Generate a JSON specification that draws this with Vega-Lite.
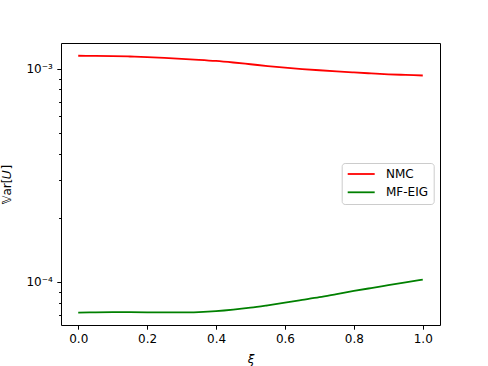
{
  "$schema": "https://vega.github.io/schema/vega-lite/v6.json",
  "width": 379,
  "height": 282,
  "autosize": {"type": "none"},
  "padding": {"left": 61, "top": 43, "right": 48, "bottom": 41},
  "background": "white",
  "config": {
    "font": "DejaVu Sans",
    "view": {"stroke": "black", "strokeWidth": 1},
    "axis": {
      "domain": false,
      "grid": false,
      "tickColor": "black",
      "tickWidth": 1,
      "labelColor": "black",
      "labelFontSize": 12,
      "labelFont": "DejaVu Sans",
      "titleFont": "DejaVu Sans",
      "titleFontSize": 12,
      "titleFontWeight": "normal",
      "titleColor": "black"
    }
  },
  "data": {
    "values": [
      {"xi": 0.0, "v": 0.001151, "method": "NMC"},
      {"xi": 0.05, "v": 0.001150, "method": "NMC"},
      {"xi": 0.1, "v": 0.001147, "method": "NMC"},
      {"xi": 0.15, "v": 0.001142, "method": "NMC"},
      {"xi": 0.2, "v": 0.001135, "method": "NMC"},
      {"xi": 0.25, "v": 0.001125, "method": "NMC"},
      {"xi": 0.3, "v": 0.001114, "method": "NMC"},
      {"xi": 0.35, "v": 0.001102, "method": "NMC"},
      {"xi": 0.4, "v": 0.001088, "method": "NMC"},
      {"xi": 0.45, "v": 0.001070, "method": "NMC"},
      {"xi": 0.5, "v": 0.001050, "method": "NMC"},
      {"xi": 0.55, "v": 0.001030, "method": "NMC"},
      {"xi": 0.6, "v": 0.001012, "method": "NMC"},
      {"xi": 0.65, "v": 0.000997, "method": "NMC"},
      {"xi": 0.7, "v": 0.000984, "method": "NMC"},
      {"xi": 0.75, "v": 0.000972, "method": "NMC"},
      {"xi": 0.8, "v": 0.000961, "method": "NMC"},
      {"xi": 0.85, "v": 0.000951, "method": "NMC"},
      {"xi": 0.9, "v": 0.000942, "method": "NMC"},
      {"xi": 0.95, "v": 0.000936, "method": "NMC"},
      {"xi": 1.0, "v": 0.000930, "method": "NMC"},
      {"xi": 0.0, "v": 0.0000718, "method": "MF-EIG"},
      {"xi": 0.05, "v": 0.0000720, "method": "MF-EIG"},
      {"xi": 0.1, "v": 0.0000721, "method": "MF-EIG"},
      {"xi": 0.15, "v": 0.0000721, "method": "MF-EIG"},
      {"xi": 0.2, "v": 0.0000720, "method": "MF-EIG"},
      {"xi": 0.25, "v": 0.0000719, "method": "MF-EIG"},
      {"xi": 0.3, "v": 0.0000719, "method": "MF-EIG"},
      {"xi": 0.35, "v": 0.0000722, "method": "MF-EIG"},
      {"xi": 0.4, "v": 0.0000729, "method": "MF-EIG"},
      {"xi": 0.45, "v": 0.0000741, "method": "MF-EIG"},
      {"xi": 0.5, "v": 0.0000757, "method": "MF-EIG"},
      {"xi": 0.55, "v": 0.0000777, "method": "MF-EIG"},
      {"xi": 0.6, "v": 0.0000799, "method": "MF-EIG"},
      {"xi": 0.65, "v": 0.0000823, "method": "MF-EIG"},
      {"xi": 0.7, "v": 0.0000848, "method": "MF-EIG"},
      {"xi": 0.75, "v": 0.0000877, "method": "MF-EIG"},
      {"xi": 0.8, "v": 0.0000907, "method": "MF-EIG"},
      {"xi": 0.85, "v": 0.0000936, "method": "MF-EIG"},
      {"xi": 0.9, "v": 0.0000965, "method": "MF-EIG"},
      {"xi": 0.95, "v": 0.0000995, "method": "MF-EIG"},
      {"xi": 1.0, "v": 0.0001025, "method": "MF-EIG"}
    ]
  },
  "mark": {"type": "line", "strokeWidth": 1.8, "interpolate": "monotone"},
  "encoding": {
    "x": {
      "field": "xi",
      "type": "quantitative",
      "scale": {"domain": [-0.05, 1.05], "nice": false, "zero": false},
      "axis": {
        "title": "ξ",
        "titleFontStyle": "italic",
        "titleBaseline": "alphabetic",
        "titleY": 37,
        "values": [0, 0.2, 0.4, 0.6, 0.8, 1.0],
        "format": ".1f",
        "tickSize": 4.2,
        "labelPadding": 4.6
      }
    },
    "y": {
      "field": "v",
      "type": "quantitative",
      "scale": {"type": "log", "domain": [0.0000628, 0.001321], "nice": false},
      "axis": {
        "title": "𝕍ar[𝑈]",
        "titleBaseline": "alphabetic",
        "titleX": -51,
        "values": [0.00007, 0.00008, 0.00009, 0.0001, 0.0002, 0.0003, 0.0004, 0.0005, 0.0006, 0.0007, 0.0008, 0.0009, 0.001],
        "labelExpr": "abs(datum.value - 0.001) < 1e-9 ? '10⁻³' : (abs(datum.value - 0.0001) < 1e-10 ? '10⁻⁴' : '')",
        "tickSize": {"condition": {"test": "abs(datum.value - 0.001) < 1e-9 || abs(datum.value - 0.0001) < 1e-10", "value": 4.2}, "value": 2.4},
        "labelPadding": 4.5
      }
    },
    "color": {
      "field": "method",
      "type": "nominal",
      "sort": ["NMC", "MF-EIG"],
      "scale": {"domain": ["NMC", "MF-EIG"], "range": ["#ff0000", "#008000"]},
      "legend": {
        "title": null,
        "orient": "none",
        "legendX": 280.7,
        "legendY": 120,
        "symbolType": "M-1,0H4.4",
        "symbolSize": 100,
        "symbolStrokeWidth": 1.8,
        "symbolFillColor": "transparent",
        "labelFontSize": 12,
        "labelFont": "DejaVu Sans",
        "labelColor": "black",
        "labelOffset": 27.3,
        "rowPadding": 6.3,
        "padding": 5,
        "fillColor": "rgba(255,255,255,0.8)",
        "strokeColor": "#cccccc",
        "cornerRadius": 3
      }
    }
  }
}
